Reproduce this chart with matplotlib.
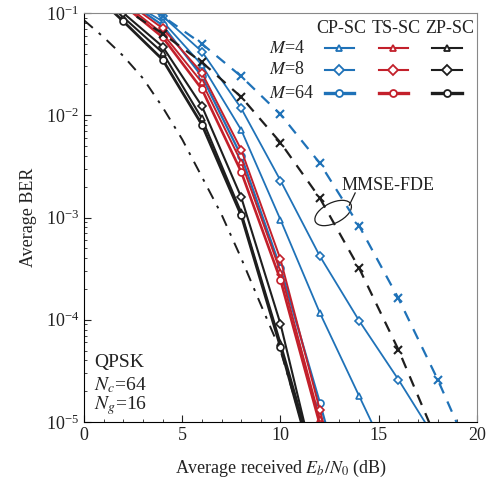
import numpy as np
import matplotlib
matplotlib.use("Agg")
import matplotlib.pyplot as plt
from matplotlib.lines import Line2D
from matplotlib.patches import Ellipse
from matplotlib.ticker import MultipleLocator, LogLocator, NullFormatter

plt.rcParams["font.family"] = "serif"
plt.rcParams["font.serif"] = ["Liberation Serif", "DejaVu Serif"]
plt.rcParams["mathtext.fontset"] = "stix"

# ============================================================
# Data (BER values)
# ============================================================
snr = [0, 2, 4, 6, 8, 10, 12, 14, 16, 18, 20]

# CP-SC (blue)
cp_m4 = [None, 1.4e-1, 8.3e-2, 3.1e-2, 7.2e-3, 9.5e-4, 1.17e-4, 1.8e-5, 2.8e-6, None, None]
cp_m8 = [None, 1.6e-1, 9.3e-2, 4.2e-2, 1.17e-2, 2.3e-3, 4.2e-4, 9.8e-5, 2.6e-5, 6.3e-6, None]
cp_m64 = [None, 1.4e-1, 7.6e-2, 2.4e-2, 4.0e-3, 3.2e-4, 1.55e-5, 6.3e-7, None, None, None]

# TS-SC (red)
ts_m4 = [None, 1.26e-1, 6.3e-2, 2.1e-2, 3.5e-3, 2.95e-4, 1.07e-5, 3.2e-7, None, None, None]
ts_m8 = [None, 1.35e-1, 7.1e-2, 2.6e-2, 4.6e-3, 3.9e-4, 1.32e-5, 4.0e-7, None, None, None]
ts_m64 = [None, 1.2e-1, 5.8e-2, 1.8e-2, 2.8e-3, 2.45e-4, 9.5e-6, 2.5e-7, None, None, None]

# ZP-SC (black)
zp_m4 = [2.0e-1, 9.1e-2, 4.1e-2, 9.3e-3, 1.12e-3, 5.9e-5, 2.7e-6, None, None, None, None]
zp_m8 = [2.1e-1, 1.0e-1, 4.7e-2, 1.23e-2, 1.58e-3, 9.1e-5, 2.3e-6, None, None, None, None]
zp_m64 = [1.9e-1, 8.3e-2, 3.5e-2, 8.1e-3, 1.05e-3, 5.4e-5, 2.2e-6, None, None, None, None]

# MMSE-FDE (dashed, x markers)
mmse_cp = [None, 1.6e-1, 9.3e-2, 5.0e-2, 2.4e-2, 1.02e-2, 3.4e-3, 8.3e-4, 1.62e-4, 2.6e-5, 3.5e-6]
mmse_zp = [1.6e-1, 1.12e-1, 6.3e-2, 3.3e-2, 1.51e-2, 5.4e-3, 1.55e-3, 3.2e-4, 5.1e-5, 6.3e-6, None]

# dash-dot reference curve
ref_snr = [0, 1, 2, 3, 4, 5, 6, 7, 8, 9, 10, 11]
ref_ber = [8.5e-2, 5.8e-2, 3.8e-2, 2.3e-2, 1.2e-2, 5.8e-3, 2.5e-3, 1.07e-3, 4.0e-4,
           1.4e-4, 5.0e-5, 1.12e-5]

blue = "#1f72b8"
red = "#c3202b"
black = "#1e1e1e"


def series(vals):
    x = [s for s, v in zip(snr, vals) if v is not None]
    y = [v for v in vals if v is not None]
    return x, y


# ============================================================
# Figure
# ============================================================
fig = plt.figure(figsize=(4.92, 4.82), dpi=100)
ax = fig.add_axes([0.1707, 0.1245, 0.7988, 0.8485])

curves = [
    (cp_m4, blue, "^", 1.3), (cp_m8, blue, "D", 1.3), (cp_m64, blue, "o", 1.6),
    (ts_m4, red, "^", 1.4), (ts_m8, red, "D", 1.4), (ts_m64, red, "o", 1.9),
    (zp_m4, black, "^", 1.5), (zp_m8, black, "D", 1.5), (zp_m64, black, "o", 2.0),
]
for vals, col, mk, lw in curves:
    x, y = series(vals)
    ms = 4.2 if mk == "D" else 5
    ax.plot(x, y, color=col, lw=lw, marker=mk, ms=ms, mfc="white", mec=col, mew=1.2)

for vals, col in [(mmse_cp, blue), (mmse_zp, black)]:
    x, y = series(vals)
    ax.plot(x, y, color=col, lw=1.6, ls=(0, (5, 4)), marker="x", ms=6, mew=1.5)

ax.plot(ref_snr, ref_ber, color=black, lw=1.4, ls=(0, (6, 4, 1.5, 4)))

ax.set_yscale("log")
ax.set_xlim(0, 20)
ax.set_ylim(1e-5, 1e-1)
ax.xaxis.set_major_locator(MultipleLocator(5))
ax.xaxis.set_minor_locator(MultipleLocator(1))
ax.yaxis.set_major_locator(LogLocator(base=10, numticks=10))
ax.yaxis.set_minor_locator(LogLocator(base=10, subs=np.arange(2, 10), numticks=10))
ax.yaxis.set_minor_formatter(NullFormatter())
ax.tick_params(which="both", direction="in", top=False, right=False, labelsize=13,
               colors="#222222")
ax.tick_params(which="major", length=5)
ax.tick_params(which="minor", length=2.5)
for side in ["top", "right"]:
    ax.spines[side].set_color("#888888")

ax.set_xlabel("Average received $E_b/N_0$ (dB)", fontsize=13, color="#222222", labelpad=10)
ax.set_ylabel("Average BER", fontsize=13, color="#222222", labelpad=6)

# table legend
hdr_x = [0.655, 0.795, 0.93]
seg_x = [(0.613, 0.687), (0.751, 0.824), (0.885, 0.962)]
row_y = [0.914, 0.861, 0.804]
for hx, name in zip(hdr_x, ["CP-SC", "TS-SC", "ZP-SC"]):
    ax.text(hx, 0.963, name, transform=ax.transAxes, ha="center", va="center",
            fontsize=13, color="#222222")
for ry, lab, mk, lw in zip(row_y, ["4", "8", "64"], ["^", "D", "o"], [1.5, 1.5, 2.4]):
    ax.text(0.47, ry, "$M$=" + lab, transform=ax.transAxes, ha="left", va="center",
            fontsize=13, color="#222222")
    for (x0, x1), col in zip(seg_x, [blue, red, black]):
        ms = 5.5 if mk == "D" else 5
        ax.add_line(Line2D([x0, x1], [ry, ry], transform=ax.transAxes, color=col, lw=lw))
        ax.add_line(Line2D([(x0 + x1) / 2], [ry], transform=ax.transAxes, color=col,
                           marker=mk, ms=ms, mfc="white", mec=col, mew=1.3))

# MMSE-FDE annotation
ax.text(0.656, 0.579, "MMSE-FDE", transform=ax.transAxes, ha="left", va="center",
        fontsize=13, color="#222222")
ax.add_patch(Ellipse((0.634, 0.511), 0.10, 0.05, angle=25, transform=ax.transAxes,
                     fill=False, ec=black, lw=0.9))
ax.add_line(Line2D([0.675, 0.69], [0.53, 0.56], transform=ax.transAxes, color=black, lw=0.9))

ax.text(0.025, 0.145, "QPSK", transform=ax.transAxes, ha="left", va="center",
        fontsize=14, color="#222222")
ax.text(0.025, 0.09, "$N_c$=64", transform=ax.transAxes, ha="left", va="center",
        fontsize=14, color="#222222")
ax.text(0.025, 0.04, "$N_g$=16", transform=ax.transAxes, ha="left", va="center",
        fontsize=14, color="#222222")

fig.savefig("out.png", dpi=100)
